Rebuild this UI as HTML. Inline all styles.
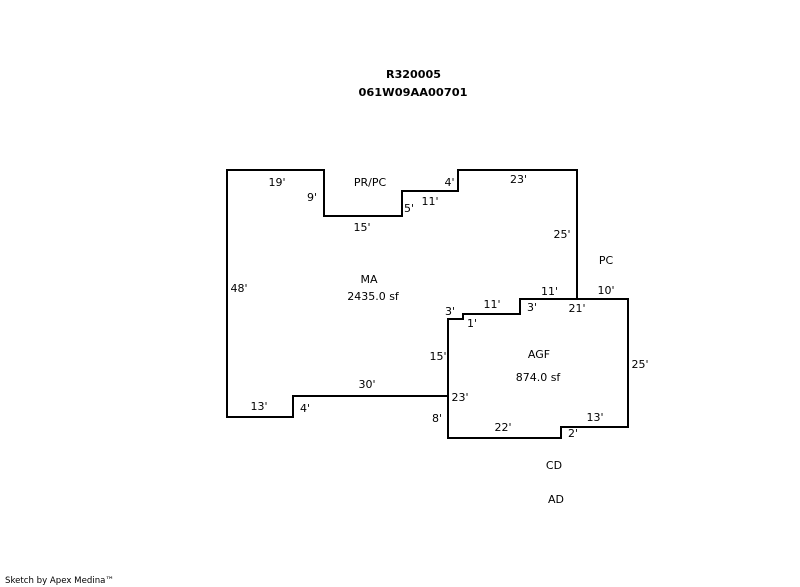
<!DOCTYPE html>
<html>
<head>
<meta charset="utf-8">
<style>
html,body{margin:0;padding:0;background:#fff;width:800px;height:587px;overflow:hidden}
svg{display:block}
text{font-family:"DejaVu Sans","Liberation Sans",sans-serif;font-size:11px;fill:#000;text-anchor:middle}
</style>
</head>
<body>
<svg width="800" height="587" viewBox="0 0 800 587" xmlns="http://www.w3.org/2000/svg">
<g fill="none" stroke="#000" stroke-width="2" stroke-linecap="square" stroke-linejoin="miter" shape-rendering="crispEdges">
<path d="M448 396H293V417H227V170H324V216H402V191H458V170H577V299"/>
<path d="M520 299H628V427H561V438H448V319H463V314H520Z"/>
</g>
<text x="413.5" y="78" style="font-weight:bold" textLength="55" lengthAdjust="spacingAndGlyphs">R320005</text>
<text x="413" y="96" style="font-weight:bold" textLength="109" lengthAdjust="spacingAndGlyphs">061W09AA00701</text>
<text x="277" y="186">19'</text>
<text x="312" y="201">9'</text>
<text x="370" y="186">PR/PC</text>
<text x="449.5" y="186">4'</text>
<text x="518.5" y="183">23'</text>
<text x="430" y="205">11'</text>
<text x="409" y="212">5'</text>
<text x="362" y="231">15'</text>
<text x="562" y="238">25'</text>
<text x="606" y="264">PC</text>
<text x="606" y="294">10'</text>
<text x="549.5" y="295">11'</text>
<text x="450" y="315">3'</text>
<text x="492" y="308">11'</text>
<text x="532" y="311">3'</text>
<text x="577" y="312">21'</text>
<text x="472" y="327">1'</text>
<text x="369" y="283">MA</text>
<text x="373" y="300">2435.0 sf</text>
<text x="239" y="292">48'</text>
<text x="438" y="360">15'</text>
<text x="367" y="388">30'</text>
<text x="259" y="410">13'</text>
<text x="305" y="412">4'</text>
<text x="437" y="422">8'</text>
<text x="460" y="401">23'</text>
<text x="539" y="358">AGF</text>
<text x="538" y="381">874.0 sf</text>
<text x="640" y="368">25'</text>
<text x="595" y="421">13'</text>
<text x="503" y="431">22'</text>
<text x="573" y="437">2'</text>
<text x="554" y="469">CD</text>
<text x="556" y="503">AD</text>
<text x="5" y="583" style="text-anchor:start;font-size:9px" textLength="109" lengthAdjust="spacingAndGlyphs">Sketch by Apex Medina™</text>
</svg>
</body>
</html>
